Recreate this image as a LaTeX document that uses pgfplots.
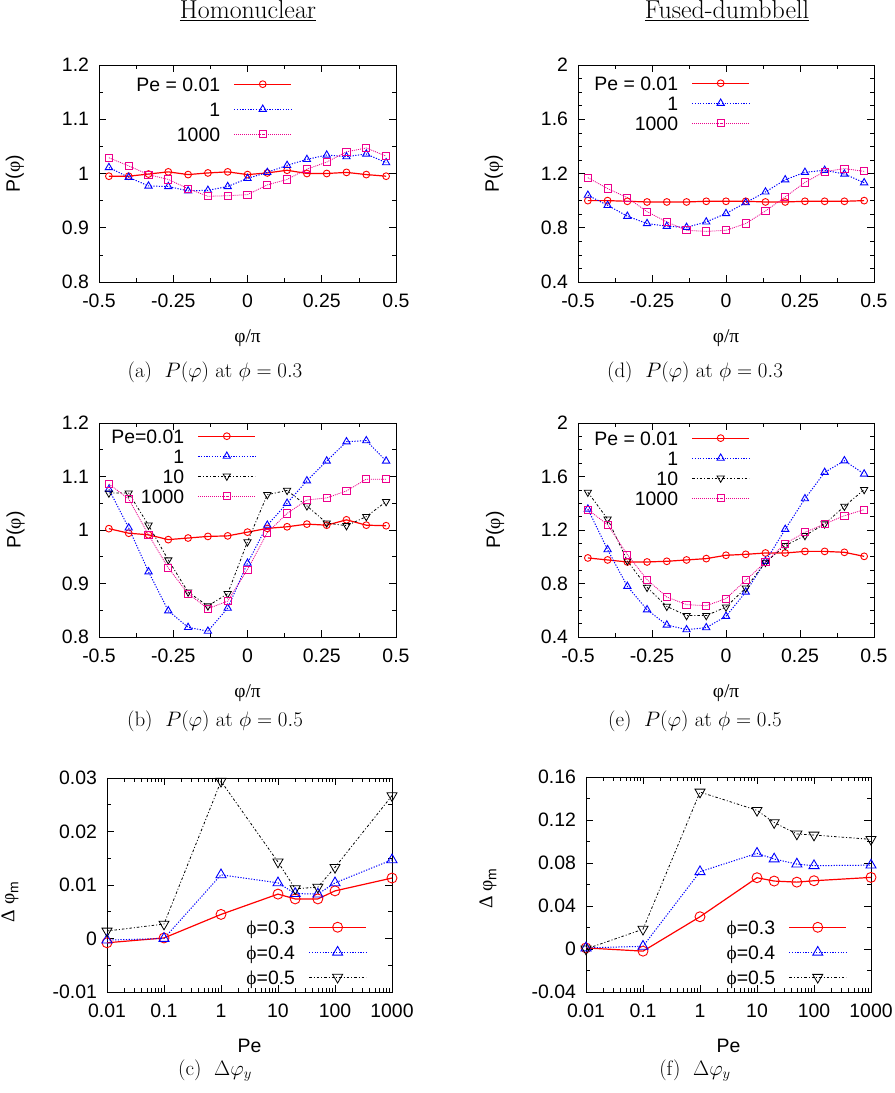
\RequirePackage{fix-cm}
\documentclass[border=0pt]{standalone}
\usepackage{fontspec}
\usepackage{pgfplots}
\usepackage{pgfplotstable}
\pgfplotsset{compat=1.18}

\newfontfamily\gpsans{Liberation Sans}
\newfontfamily\gpserif{Liberation Serif}
\newcommand\gp{\gpsans\fontsize{19.5}{22}\selectfont}
\newcommand\gr[1]{{\gpserif #1}}
% struts setting the legend row pitch (20bp and 25bp), centred on the digits
\newcommand\lt{\rule[-2.5bp]{0pt}{19bp}}
\newcommand\lw{\rule[-5bp]{0pt}{24bp}}

% P(varphi) at phi = 0.3, homonuclear
\pgfplotstableread{
x       r      b      m
-0.4667 0.995  1.011  1.029
-0.4    0.995  0.993  1.014
-0.3333 0.999  0.977  0.998
-0.2667 1.003  0.976  0.989
-0.2    0.998  0.968  0.972
-0.1333 1.001  0.969  0.958
-0.0667 1.003  0.976  0.959
0       0.998  0.991  0.961
0.0667  1.001  1.002  0.979
0.1333  1.006  1.015  0.989
0.2     1.000  1.026  1.008
0.2667  1.000  1.034  1.021
0.3333  1.002  1.031  1.040
0.4     0.998  1.036  1.047
0.4667  0.995  1.020  1.032
}\tabA

% P(varphi) at phi = 0.5, homonuclear
\pgfplotstableread{
x       r      b      k      m
-0.4667 1.0025 1.076  1.069  1.086
-0.4    0.994  1.004  1.069  1.058
-0.3333 0.991  0.922  1.009  0.991
-0.2667 0.982  0.849  0.944  0.929
-0.2    0.985  0.818  0.884  0.881
-0.1333 0.988  0.811  0.858  0.853
-0.0667 0.989  0.854  0.881  0.867
0       0.996  0.938  0.978  0.926
0.0667  1.003  1.009  1.066  0.995
0.1333  1.006  1.050  1.074  1.031
0.2     1.011  1.092  1.045  1.056
0.2667  1.009  1.129  1.013  1.060
0.3333  1.019  1.165  1.008  1.073
0.4     1.009  1.167  1.025  1.095
0.4667  1.008  1.129  1.053  1.095
}\tabB

% Delta varphi_m, homonuclear
\pgfplotstableread{
x     r       b       k
0.01  -0.0008 -0.0003 0.0014
0.1   0.0001  0.0     0.0027
1     0.0045  0.0119  0.0294
10    0.0083  0.0104  0.0143
20    0.0074  0.0084  0.0093
50    0.0074  0.0083  0.0096
100   0.0089  0.0104  0.0133
1000  0.0113  0.0147  0.0267
}\tabC

% P(varphi) at phi = 0.3, fused-dumbbell
\pgfplotstableread{
x       r      b      m
-0.4667 1.000  1.040  1.169
-0.4    1.000  0.965  1.089
-0.3333 0.995  0.885  1.022
-0.2667 0.990  0.831  0.918
-0.2    0.990  0.811  0.843
-0.1333 0.990  0.803  0.781
-0.0667 0.995  0.843  0.773
0       0.995  0.905  0.781
0.0667  0.995  0.985  0.831
0.1333  0.990  1.064  0.923
0.2     0.990  1.154  1.027
0.2667  0.995  1.209  1.134
0.3333  0.995  1.224  1.214
0.4     0.995  1.196  1.236
0.4667  1.000  1.132  1.216
}\tabD

% P(varphi) at phi = 0.5, fused-dumbbell
\pgfplotstableread{
x       r      b      k      m
-0.4667 0.991  1.357  1.482  1.352
-0.4    0.976  1.053  1.282  1.240
-0.3333 0.961  0.779  0.970  1.016
-0.2667 0.961  0.604  0.771  0.829
-0.2    0.966  0.490  0.629  0.699
-0.1333 0.976  0.455  0.560  0.642
-0.0667 0.986  0.470  0.560  0.634
0       1.011  0.555  0.624  0.687
0.0667  1.018  0.736  0.766  0.824
0.1333  1.028  0.966  0.958  0.961
0.2     1.028  1.205  1.083  1.098
0.2667  1.040  1.434  1.158  1.183
0.3333  1.040  1.631  1.245  1.245
0.4     1.033  1.718  1.377  1.307
0.4667  1.003  1.619  1.502  1.352
}\tabE

% Delta varphi_m, fused-dumbbell
\pgfplotstableread{
x     r       b       k
0.01  0.001   0.001   0.0
0.1   -0.002  0.0025  0.0184
1     0.030   0.0719  0.146
10    0.0663  0.089   0.129
20    0.0632  0.0837  0.1176
50    0.0622  0.079   0.107
100   0.0635  0.0775  0.106
1000  0.0666  0.078   0.102
}\tabF

\pgfplotsset{
  gpaxis/.style={
    scale only axis,
    anchor=south west,
    axis line style={line width=0.8bp},
    tick style={line width=0.6bp, black},
    major tick length=7bp, minor tick length=4bp,
    tick label style={font=\gp},
    label style={font=\gp},
    xticklabel style={yshift=-8.5bp},
    yticklabel style={xshift=-6.5bp},
    legend cell align=right,
    legend plot pos=right,
    legend image code/.code={\draw[mark repeat=2,mark phase=2] plot coordinates {(0bp,0bp) (28.5bp,0bp) (57bp,0bp)};},
    legend style={draw=none, fill=none, font=\gp, inner sep=0pt, anchor=north east,
      column sep=13bp, nodes={inner sep=0.5bp, text depth=}},
  },
  phiaxis/.style={
    gpaxis,
    xmin=-0.5, xmax=0.5,
    xtick={-0.5,-0.25,0,0.25,0.5}, xticklabels={-0.5,-0.25,0,0.25,0.5},
    minor x tick num=1,
    xlabel={\gr{φ/π}}, ylabel={P(\gr{φ})},
  },
  peaxis/.style={
    gpaxis,
    xmin=0.01, xmax=1000,
    xtick={0.01,0.1,1,10,100,1000}, xticklabels={0.01,0.1,1,10,100,1000},
    minor y tick num=1,
    xlabel={Pe}, ylabel={\gr{Δ φ}\raisebox{-4bp}{\gpsans\fontsize{14}{14}\selectfont m}},
    xlabel style={at={(axis description cs:0.5,-0.252)}, anchor=center},
  },
  s1/.style={red, line width=1.2bp, mark=o, mark size=3.4bp, mark options={solid, line width=0.9bp}},
  s2/.style={blue, line width=1bp, dash pattern=on 1.2bp off 1.5bp, mark=triangle, mark size=4.2bp, mark options={solid, line width=0.9bp}},
  s3/.style={black, line width=0.8bp, dash pattern=on 2.5bp off 2bp on 1bp off 2bp, mark=triangle, mark size=4.2bp, mark options={solid, rotate=180, line width=0.8bp}},
  s4/.style={magenta, line width=0.8bp, dash pattern=on 1bp off 1bp, mark=square, mark size=3.6bp, mark options={solid, line width=0.9bp}},
}

\begin{document}
\begin{tikzpicture}
\path[use as bounding box] (0,0) rectangle (895bp,1093bp);

\node[anchor=base, font=\fontsize{26}{30}\selectfont] at (248bp,1074bp) {\underline{Homonuclear}};
\node[anchor=base, font=\fontsize{26}{30}\selectfont] at (727bp,1074bp) {\underline{Fused-dumbbell}};

% (a)
\begin{axis}[phiaxis, at={(99bp,811bp)}, width=297bp, height=217bp,
  ymin=0.8, ymax=1.2, ytick={0.8,0.9,1,1.1,1.2}, yticklabels={0.8,0.9,1,1.1,1.2},
  minor y tick num=1,
  xlabel style={at={(axis description cs:0.5,-0.258)}, anchor=center},
  ylabel style={at={(axis description cs:-0.283,0.5)}, anchor=center},
  legend style={at={(0.65,0.970)}}]
\addplot[s1] table[x=x,y=r] {\tabA}; \addlegendentry{\lw Pe = 0.01}
\addplot[s2] table[x=x,y=b] {\tabA}; \addlegendentry{\lw 1}
\addplot[s4] table[x=x,y=m] {\tabA}; \addlegendentry{\lw 1000}
\end{axis}

% (b)
\begin{axis}[phiaxis, at={(99bp,456bp)}, width=297bp, height=214bp,
  ymin=0.8, ymax=1.2, ytick={0.8,0.9,1,1.1,1.2}, yticklabels={0.8,0.9,1,1.1,1.2},
  minor y tick num=1,
  xlabel style={at={(axis description cs:0.5,-0.262)}, anchor=center},
  ylabel style={at={(axis description cs:-0.281,0.5)}, anchor=center},
  legend style={at={(0.529,0.986)}}]
\addplot[s1] table[x=x,y=r] {\tabB}; \addlegendentry{\lt Pe=0.01}
\addplot[s2] table[x=x,y=b] {\tabB}; \addlegendentry{\lt 1}
\addplot[s3] table[x=x,y=k] {\tabB}; \addlegendentry{\lt 10}
\addplot[s4] table[x=x,y=m] {\tabB}; \addlegendentry{\lt 1000}
\end{axis}

% (c)
\begin{semilogxaxis}[peaxis, at={(107bp,101bp)}, width=285bp, height=214bp,
  ymin=-0.01, ymax=0.03, ytick={-0.01,0,0.01,0.02,0.03}, yticklabels={-0.01,0,0.01,0.02,0.03},
  scaled y ticks=false,
  ylabel style={at={(axis description cs:-0.34,0.42)}, anchor=center},
  legend style={at={(0.912,0.362)}}]
\addplot[s1, mark size=5bp] table[x=x,y=r] {\tabC}; \addlegendentry{\lw\gr{ϕ}=0.3}
\addplot[s2, mark size=5.8bp] table[x=x,y=b] {\tabC}; \addlegendentry{\lw\gr{ϕ}=0.4}
\addplot[s3, mark size=5.8bp] table[x=x,y=k] {\tabC}; \addlegendentry{\lw\gr{ϕ}=0.5}
\end{semilogxaxis}

% (d)
\begin{axis}[phiaxis, at={(578bp,811bp)}, width=296bp, height=217bp,
  ymin=0.4, ymax=2, ytick={0.4,0.8,1.2,1.6,2}, yticklabels={0.4,0.8,1.2,1.6,2},
  minor y tick num=3,
  xlabel style={at={(axis description cs:0.5,-0.258)}, anchor=center},
  ylabel style={at={(axis description cs:-0.284,0.5)}, anchor=center},
  legend style={at={(0.581,0.963)}}]
\addplot[s1] table[x=x,y=r] {\tabD}; \addlegendentry{\lt Pe = 0.01}
\addplot[s2] table[x=x,y=b] {\tabD}; \addlegendentry{\lt 1}
\addplot[s4] table[x=x,y=m] {\tabD}; \addlegendentry{\lt 1000}
\end{axis}

% (e)
\begin{axis}[phiaxis, at={(578bp,456bp)}, width=296bp, height=214bp,
  ymin=0.4, ymax=2, ytick={0.4,0.8,1.2,1.6,2}, yticklabels={0.4,0.8,1.2,1.6,2},
  minor y tick num=3,
  xlabel style={at={(axis description cs:0.5,-0.262)}, anchor=center},
  ylabel style={at={(axis description cs:-0.28,0.5)}, anchor=center},
  legend style={at={(0.581,0.977)}}]
\addplot[s1] table[x=x,y=r] {\tabE}; \addlegendentry{\lt Pe = 0.01}
\addplot[s2] table[x=x,y=b] {\tabE}; \addlegendentry{\lt 1}
\addplot[s3] table[x=x,y=k] {\tabE}; \addlegendentry{\lt 10}
\addplot[s4] table[x=x,y=m] {\tabE}; \addlegendentry{\lt 1000}
\end{axis}

% (f)
\begin{semilogxaxis}[peaxis, at={(586bp,101bp)}, width=285bp, height=215bp,
  ymin=-0.04, ymax=0.16, ytick={-0.04,0,0.04,0.08,0.12,0.16}, yticklabels={-0.04,0,0.04,0.08,0.12,0.16},
  scaled y ticks=false,
  ylabel style={at={(axis description cs:-0.344,0.48)}, anchor=center},
  legend style={at={(0.916,0.360)}}]
\addplot[s1, mark size=5bp] table[x=x,y=r] {\tabF}; \addlegendentry{\lw\gr{ϕ}=0.3}
\addplot[s2, mark size=5.8bp] table[x=x,y=b] {\tabF}; \addlegendentry{\lw\gr{ϕ}=0.4}
\addplot[s3, mark size=5.8bp] table[x=x,y=k] {\tabF}; \addlegendentry{\lw\gr{ϕ}=0.5}
\end{semilogxaxis}

\begin{scope}[font=\fontsize{21}{24}\selectfont]
\node[anchor=base] at (215bp,715bp) {(a)\ \ $P(\varphi)$ at $\phi=0.3$};
\node[anchor=base] at (215bp,366bp) {(b)\ \ $P(\varphi)$ at $\phi=0.5$};
\node[anchor=base] at (215bp,18bp) {(c)\ \ $\Delta\varphi_y$};
\node[anchor=base] at (695bp,715bp) {(d)\ \ $P(\varphi)$ at $\phi=0.3$};
\node[anchor=base] at (695bp,366bp) {(e)\ \ $P(\varphi)$ at $\phi=0.5$};
\node[anchor=base] at (695bp,18bp) {(f)\ \ $\Delta\varphi_y$};
\end{scope}
\end{tikzpicture}
\end{document}
